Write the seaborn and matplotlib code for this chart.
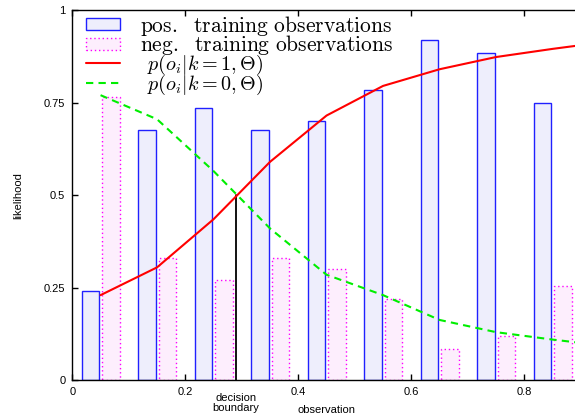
import numpy as np
import pandas as pd
import matplotlib
matplotlib.use("Agg")
import matplotlib.pyplot as plt
import seaborn as sns
from matplotlib.patches import Patch
from matplotlib.lines import Line2D

# ---------------- data ----------------
bin_centers = [0.05, 0.15, 0.25, 0.35, 0.45, 0.55, 0.65, 0.75, 0.85]
pos_heights = [0.24, 0.675, 0.735, 0.675, 0.70, 0.785, 0.92, 0.885, 0.75]
neg_heights = [0.765, 0.33, 0.27, 0.33, 0.30, 0.22, 0.085, 0.12, 0.255]

curve_x = [0.05, 0.15, 0.25, 0.35, 0.45, 0.55, 0.65, 0.75, 0.85, 0.95]
p_k1 = [0.23, 0.305, 0.435, 0.59, 0.715, 0.795, 0.84, 0.873, 0.895, 0.915]
p_k0 = [0.77, 0.705, 0.565, 0.41, 0.285, 0.23, 0.163, 0.13, 0.11, 0.092]

decision_x = 0.29
decision_y = 0.5

xticks = [0, 0.2, 0.4, 0.6, 0.8]
xtick_labels = ["0", "0.2", "0.4", "0.6", "0.8"]
yticks = [0, 0.25, 0.5, 0.75, 1]
ytick_labels = ["0", "0.25", "0.5", "0.75", "1"]

legend_labels = [
    r"$\mathrm{pos.\ \ training\ observations}$",
    r"$\mathrm{neg.\ \ training\ observations}$",
    r"$\;\,p(o_i|k=1,\Theta)$",
    r"$\;\,p(o_i|k=0,\Theta)$",
]

# ---------------- style ----------------
sns.set_theme(style="white")
plt.rcParams["font.family"] = ["Liberation Sans", "DejaVu Sans"]
plt.rcParams["mathtext.fontset"] = "cm"
plt.rcParams["text.color"] = "black"
plt.rcParams["axes.labelcolor"] = "black"
plt.rcParams["xtick.color"] = "black"
plt.rcParams["ytick.color"] = "black"

POS_FILL, POS_EDGE = "#eeeefc", "#2020ff"
NEG_FILL, NEG_EDGE = "#fdeefd", "#ff00ff"

fig = plt.figure(figsize=(5.75, 4.18), dpi=100)
ax = fig.add_axes([72.3 / 575, 1 - 380.3 / 418, 1 - 72.3 / 575, 370.3 / 418])

bar_w = 0.031
off_pos = -0.0175
off_neg = 0.0185

df_pos = pd.DataFrame({"x": [c + off_pos for c in bin_centers], "y": pos_heights})
df_neg = pd.DataFrame({"x": [c + off_neg for c in bin_centers], "y": neg_heights})

sns.barplot(data=df_pos, x="x", y="y", native_scale=True, orient="x", width=bar_w / 0.1,
            color=POS_FILL, saturation=1, edgecolor=POS_EDGE, linewidth=1.0,
            errorbar=None, ax=ax, zorder=1)
sns.barplot(data=df_neg, x="x", y="y", native_scale=True, orient="x", width=bar_w / 0.1,
            color=NEG_FILL, saturation=1, edgecolor=NEG_EDGE, linewidth=1.0,
            linestyle=(0, (1, 2)), errorbar=None, ax=ax, zorder=1)

sns.lineplot(x=curve_x, y=p_k1, color="#ff0000", linewidth=1.5, ax=ax, zorder=3)
sns.lineplot(x=curve_x, y=p_k0, color="#00ee00", linewidth=1.5,
             linestyle=(0, (3.5, 2.5)), ax=ax, zorder=3)

ax.plot([decision_x, decision_x], [0, decision_y], color="black", linewidth=1.3, zorder=2)

ax.set_xlim(0, 0.8897)
ax.set_ylim(0, 1.0)
ax.set_xticks(xticks)
ax.set_xticklabels(xtick_labels)
ax.set_yticks(yticks)
ax.set_yticklabels(ytick_labels)
ax.tick_params(axis="both", which="major", direction="in", length=4, width=1,
               labelsize=8, pad=5, top=True, bottom=True, left=True, right=False)

for side in ["left", "bottom", "top"]:
    ax.spines[side].set_visible(True)
    ax.spines[side].set_color("black")
    ax.spines[side].set_linewidth(1.0)
ax.spines["right"].set_visible(False)

ax.set_xlabel("observation", fontsize=8)
ax.xaxis.set_label_coords(0.5056, -0.068)
ax.xaxis.label.set_va("top")
ax.set_ylabel("likelihood", fontsize=8)
ax.yaxis.set_label_coords(-0.098, 0.5)

ax.annotate("decision\nboundary", xy=(decision_x, 0), xycoords=("data", "axes fraction"),
            xytext=(0, -9), textcoords="offset points", ha="center", va="top",
            fontsize=8, linespacing=1.05)

handles = [
    Patch(facecolor=POS_FILL, edgecolor=POS_EDGE, linewidth=1.0),
    Patch(facecolor=NEG_FILL, edgecolor=NEG_EDGE, linewidth=1.0, linestyle=(0, (1, 2))),
    Line2D([], [], color="#ff0000", linewidth=1.5),
    Line2D([], [], color="#00ee00", linewidth=1.5, linestyle=(0, (3.5, 2.5))),
]
leg = ax.legend(handles, legend_labels, loc="upper left", bbox_to_anchor=(0.027, 0.99),
                frameon=False, fontsize=15.5, borderpad=0, borderaxespad=0,
                handlelength=1.58, handleheight=0.46, handletextpad=0.92,
                labelspacing=-0.2)
for t in leg.get_texts()[2:]:
    t.set_fontsize(14.5)

fig.savefig("out.png", dpi=100)
